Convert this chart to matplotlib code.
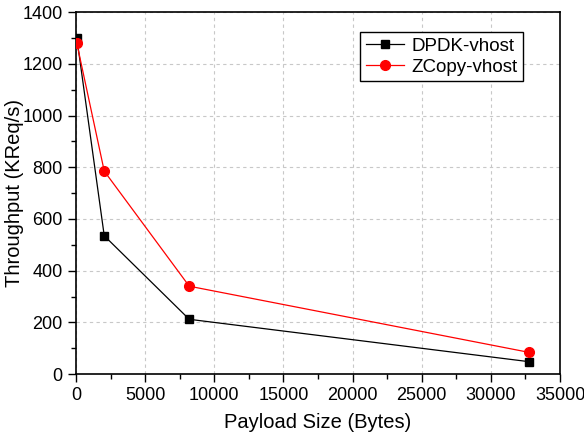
import matplotlib.pyplot as plt
from matplotlib.ticker import MultipleLocator

plt.rcParams['font.family'] = ['Liberation Sans', 'DejaVu Sans']

payload = [64, 2048, 8192, 32768]
dpdk_vhost = [1300, 535, 212, 48]
zcopy_vhost = [1280, 785, 340, 84]

fig = plt.figure(figsize=(5.84, 4.33), dpi=100)
ax = fig.add_axes([0.130, 0.136, 0.829, 0.836])

ax.plot(payload, dpdk_vhost, color='black', lw=0.9, marker='s', ms=6, label='DPDK-vhost', zorder=3)
ax.plot(payload, zcopy_vhost, color='red', lw=0.9, marker='o', ms=7, label='ZCopy-vhost', zorder=3)

ax.set_xlim(0, 35000)
ax.set_ylim(0, 1400)
ax.xaxis.set_major_locator(MultipleLocator(5000))
ax.xaxis.set_minor_locator(MultipleLocator(2500))
ax.yaxis.set_major_locator(MultipleLocator(200))
ax.yaxis.set_minor_locator(MultipleLocator(100))
ax.grid(True, which='major', ls=(0, (3, 3)), color='#c8c8c8', lw=0.8)
ax.set_axisbelow(True)

ax.tick_params(which='major', length=6, width=1, labelsize=13, direction='out')
ax.tick_params(which='minor', length=3.5, width=1, direction='out')
for s in ax.spines.values():
    s.set_linewidth(1.2)

ax.set_xlabel('Payload Size (Bytes)', fontsize=14.5, labelpad=6)
ax.set_ylabel('Throughput (KReq/s)', fontsize=14.5, labelpad=-1)

leg = ax.legend(loc='upper right', bbox_to_anchor=(0.923, 0.945), fontsize=13.5, fancybox=False,
                framealpha=1, edgecolor='black', handlelength=2.0, borderpad=0.3,
                labelspacing=0.2, handletextpad=0.4, borderaxespad=0)
leg.get_frame().set_linewidth(1.0)

fig.savefig('out.png', dpi=100)
